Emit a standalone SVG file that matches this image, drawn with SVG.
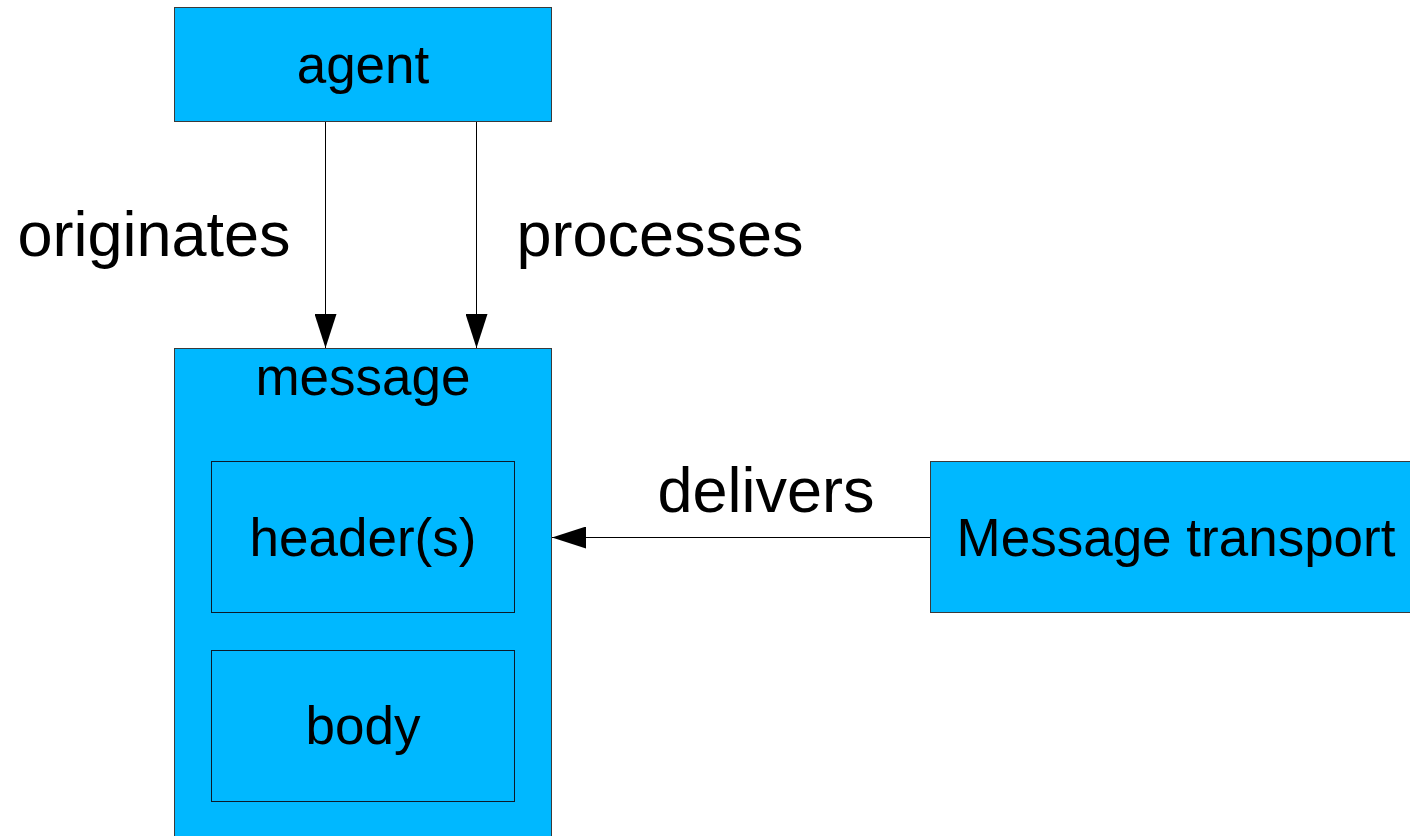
<svg xmlns="http://www.w3.org/2000/svg" width="1410" height="836" viewBox="0 0 1410 836">
  <style>
    .box { fill: #00b8ff; stroke: #3a3a3a; stroke-width: 1; }
    .inner { fill: #00b8ff; stroke: #0a1a2a; stroke-width: 1; }
    .node-label { font-family: "Liberation Sans", Arial, sans-serif; font-size: 53px; fill: #000; text-anchor: middle; }
    .edge-label { font-family: "Liberation Sans", Arial, sans-serif; font-size: 63px; fill: #000; text-anchor: middle; }
    .conn { stroke: #000; stroke-width: 1; fill: none; }
  </style>
  <defs>
    <marker id="arrow" viewBox="0 0 34 22" refX="34" refY="11" markerWidth="34" markerHeight="22" markerUnits="userSpaceOnUse" orient="auto">
      <path d="M0,0 L34,11 L0,22 Z" fill="#000"/>
    </marker>
  </defs>

  <g id="agent">
    <rect class="box" x="174.5" y="7.5" width="377" height="114"/>
    <text class="node-label" x="363" y="83">agent</text>
  </g>

  <g id="message">
    <rect class="box" x="174.5" y="348.5" width="377" height="492"/>
    <text class="node-label" x="363" y="395">message</text>
  </g>

  <g id="headers">
    <rect class="inner" x="211.5" y="461.5" width="303" height="151"/>
    <text class="node-label" x="363" y="556">header(s)</text>
  </g>

  <g id="body">
    <rect class="inner" x="211.5" y="650.5" width="303" height="151"/>
    <text class="node-label" x="363" y="744">body</text>
  </g>

  <g id="transport">
    <rect class="box" x="930.5" y="461.5" width="492" height="151"/>
    <text class="node-label" x="1176" y="556">Message transport</text>
  </g>

  <g id="connectors">
    <line class="conn" x1="325.5" y1="122" x2="325.5" y2="348" marker-end="url(#arrow)"/>
    <line class="conn" x1="476.5" y1="122" x2="476.5" y2="348" marker-end="url(#arrow)"/>
    <line class="conn" x1="930" y1="537.5" x2="552" y2="537.5" marker-end="url(#arrow)"/>
    <text class="edge-label" x="154" y="256">originates</text>
    <text class="edge-label" x="660" y="256">processes</text>
    <text class="edge-label" x="766" y="512">delivers</text>
  </g>
</svg>
